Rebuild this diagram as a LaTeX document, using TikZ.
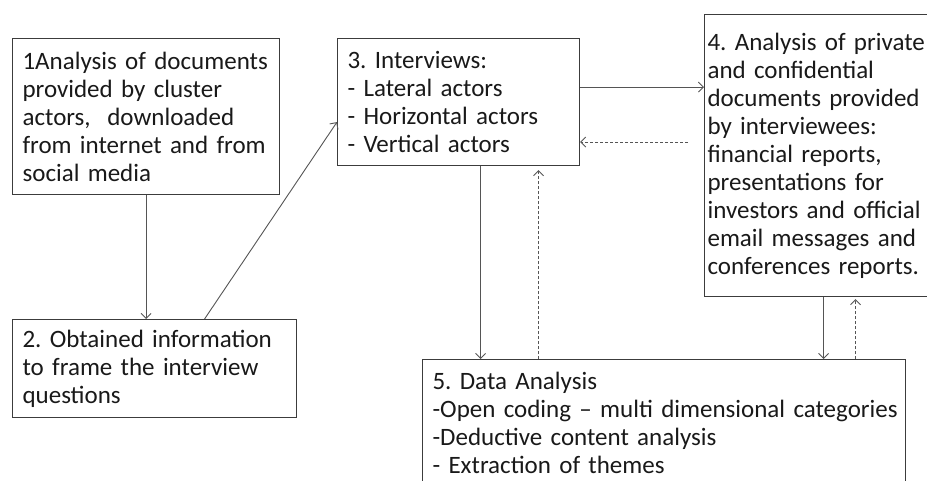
\documentclass[tikz,border=0pt]{standalone}
\usepackage{fontspec}
\setmainfont{Carlito}
\usetikzlibrary{arrows.meta}
\definecolor{lineGray}{RGB}{85, 85, 85}
\definecolor{boxGray}{RGB}{60, 60, 60}
\definecolor{textBlack}{RGB}{25, 25, 25}
\frenchspacing

\tikzset{
  stage/.style={draw=boxGray, line width=1.1pt, anchor=north west, align=left,
    inner xsep=10pt, inner ysep=0pt, text=textBlack,
    font=\fontsize{25pt}{28pt}\selectfont},
  flow/.style={lineGray, line width=0.9pt, -{Straight Barb[length=5pt,width=10pt]}},
  back/.style={flow, dash pattern=on 3pt off 2pt}
}

\begin{document}
\begin{tikzpicture}[x=1pt, y=-1pt]
      \useasboundingbox (0,0) rectangle (927,480);

      \node[stage, text width=247pt, minimum height=156pt] (docs) at (12,38)
        {1Analysis of documents\\provided by cluster\\actors,\ \ downloaded\\from internet and from\\social media};
      \node[stage, text width=264pt, minimum height=98pt] (info) at (12,319)
        {2. Obtained information\\to frame the interview\\questions};
      \node[stage, text width=222pt, minimum height=127pt] (talks) at (337,38)
        {3. Interviews:\\- Lateral actors\\- Horizontal actors\\- Vertical actors};
      \node[stage, inner xsep=3pt, text width=222pt, minimum height=282pt] (private) at (704,14)
        {4. Analysis of private\\and confidential\\documents provided\\by interviewees:\\financial reports,\\presentations for\\investors and official\\email messages and\\conferences reports.};
      \node[stage, text width=463pt, minimum height=126pt] (analysis) at (422,359)
        {5. Data Analysis\\\mbox{-Open coding -- multi dimensional categories}\\-Deductive content analysis\\- Extraction of themes};

      \draw[flow] (docs.south) -- (docs.south |- info.north);
      \draw[flow] ([xshift=50pt]info.north) -- ([yshift=-20pt]talks.west);
      \draw[flow] ([yshift=15pt]talks.east) -- ([yshift=15pt]talks.east -| private.west);
      \draw[back, shorten <=16pt] ([yshift=-40pt]talks.east -| private.west) -- ([yshift=-40pt]talks.east);
      \draw[flow] ([xshift=22pt]talks.south) -- ([xshift=22pt]talks.south |- analysis.north);
      \draw[back, shorten >=4pt] ([xshift=80pt]talks.south |- analysis.north) -- ([xshift=80pt]talks.south);
      \draw[flow] ([xshift=5pt]private.south) -- ([xshift=5pt]private.south |- analysis.north);
      \draw[back, shorten >=2pt] ([xshift=37pt]private.south |- analysis.north) -- ([xshift=37pt]private.south);
    \end{tikzpicture}
\end{document}
